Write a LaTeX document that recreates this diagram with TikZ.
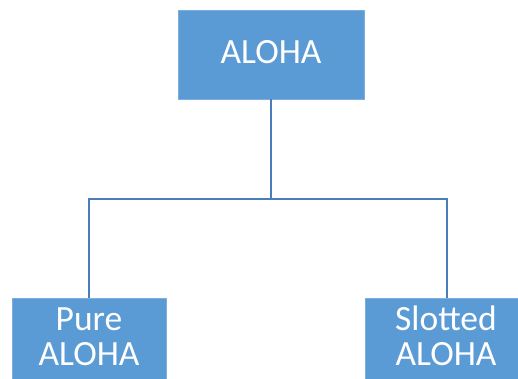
\documentclass[tikz,border=0pt]{standalone}
\usepackage{fontspec}
\setmainfont{Carlito}
\definecolor{boxblue}{HTML}{5B9BD5}
\definecolor{linkblue}{HTML}{4A7EBB}
\begin{document}
\begin{tikzpicture}[x=1pt,y=-1pt,
  box/.style={fill=boxblue,draw=boxblue!80!white,line width=0.6pt},
  lbl/.style={text=white,font=\fontsize{35.5}{40}\selectfont,anchor=base,inner sep=0pt},
  link/.style={draw=linkblue,line width=1.8pt}]
\useasboundingbox (0,0) rectangle (518,378);
\clip (0,0) rectangle (518,378);
\fill[white] (0,0) rectangle (518,378);
% boxes
\draw[box] (178,10) rectangle (364,99);
\draw[box] (12,298) rectangle (166,400);
\draw[box] (365,298) rectangle (530,400);
\node[lbl] (top) at (271,63) {ALOHA};
\node[lbl] (pl1) at (89,330) {Pure};
\node[lbl] (pl2) at (89,365) {ALOHA};
\node[lbl] (sl1) at (446,330) {Slotted};
\node[lbl] (sl2) at (446,365) {ALOHA};
% connectors
\coordinate (tb) at (271,99);
\coordinate (j) at (271,199);
\coordinate (jl) at (89,199);
\coordinate (jr) at (447,199);
\coordinate (lt) at (89,298);
\coordinate (rt) at (447,298);
\draw[link] (tb) -- (j);
\draw[link] (lt) -- (jl) -- (jr) -- (rt);
\end{tikzpicture}
\end{document}
